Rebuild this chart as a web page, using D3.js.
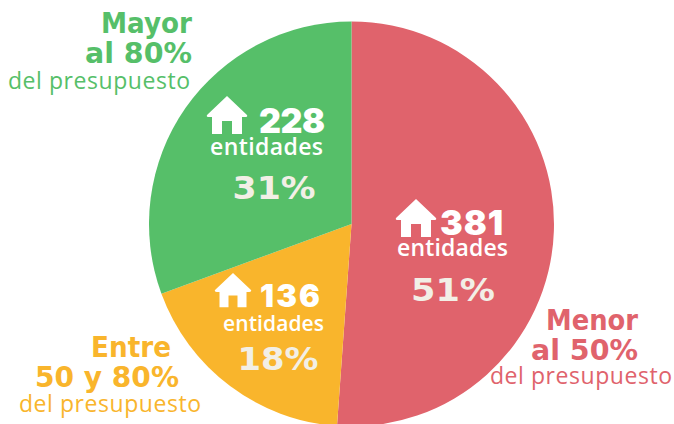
<!DOCTYPE html>
<html>
<head>
<meta charset="utf-8">
<script src="https://cdn.jsdelivr.net/npm/d3@7"></script>
<style>
    body { margin: 0; background: #fff; }
    svg { display: block; }
    .head { font-family: "DejaVu Sans"; font-weight: 700; font-size: 28px; }
    .sub { font-family: "Open Sans"; font-size: 23px; }
    .count { font-family: "Inter"; font-weight: 900; fill: #fff; }
    .unit { font-family: "Open Sans"; font-weight: 600; fill: #fff; }
    .pct { font-family: "DejaVu Sans"; font-weight: 700; font-size: 32px; fill: #f2efe6; }
</style>
</head>
<body>
<svg id="chart" width="674" height="424"></svg>
<script>
const categories = ["Menor al 50%", "Entre 50 y 80%", "Mayor al 80%"];
const entidades = [381, 136, 228];
const percents = ["51%", "18%", "31%"];
const colors = ["#e0636c", "#f9b52c", "#56bf69"];
const headLines = [["Menor", "al 50%"], ["Entre", "50 y 80%"], ["Mayor", "al 80%"]];
const subLabel = "del presupuesto";

// where the text blocks sit, same order as categories
const headRight = [[638, 638], [171, 179], [192, 192]];
const headWidth = [[92, 107], [80, 144], [91, 107]];
const headBase = [330, 357, 33];
const subRight = [672, 201, 190];
const subBase = [384, 412, 89];
const subWidth = 182;
const countPos = [[440, 235], [260, 307], [259, 133]];
const countSize = [34, 31, 34];
const countWidth = [63, 60, 66];
const unitPos = [[452.5, 256], [273.5, 331], [266.5, 155]];
const unitSize = [23, 21, 23];
const unitWidth = [111, 101, 113];
const pctPos = [[453, 301], [278, 370], [274, 199]];
const pctWidth = [84, 81, 83];
const housePos = [[416, 219], [233, 291], [227, 116]];
const houseScale = [1, 0.9, 1];

const cx = 351.5, cy = 224, radius = 202.5;
let svg = d3.select("#chart");

let pie = d3.pie().sort(null).value(d => d);
let arc = d3.arc().innerRadius(0).outerRadius(radius);

svg.append("g")
    .attr("transform", `translate(${cx},${cy})`)
    .selectAll("path")
    .data(pie(entidades))
    .enter()
    .append("path")
    .attr("d", arc)
    .style("fill", (d, i) => colors[i]);

// outside labels
categories.forEach((c, i) => {
    headLines[i].forEach((line, j) => {
        svg.append("text")
            .attr("class", "head")
            .attr("x", headRight[i][j])
            .attr("y", headBase[i] + j * 30)
            .attr("text-anchor", "end")
            .attr("textLength", headWidth[i][j])
            .attr("lengthAdjust", "spacingAndGlyphs")
            .style("fill", colors[i])
            .text(line);
    });
    svg.append("text")
        .attr("class", "sub")
        .attr("x", subRight[i])
        .attr("y", subBase[i])
        .attr("text-anchor", "end")
        .attr("textLength", subWidth)
        .style("fill", colors[i])
        .text(subLabel);
});

// inside labels
entidades.forEach((v, i) => {
    let h = svg.append("g")
        .attr("transform", `translate(${housePos[i][0]},${housePos[i][1]}) scale(${houseScale[i]})`);
    h.append("path")
        .attr("fill", "#fff")
        .attr("d", "M0,-20 L20,-1 Q21,1 18,1 L15,1 L15,18 L5,18 L5,5 L-5,5 L-5,18 L-15,18 L-15,1 L-18,1 Q-21,1 -20,-1 Z");
    svg.append("text").attr("class", "count")
        .attr("x", countPos[i][0]).attr("y", countPos[i][1])
        .attr("textLength", countWidth[i])
        .style("font-size", countSize[i] + "px").text(v);
    svg.append("text").attr("class", "unit")
        .attr("x", unitPos[i][0]).attr("y", unitPos[i][1]).attr("text-anchor", "middle")
        .attr("textLength", unitWidth[i])
        .style("font-size", unitSize[i] + "px").text("entidades");
    svg.append("text").attr("class", "pct")
        .attr("x", pctPos[i][0]).attr("y", pctPos[i][1]).attr("text-anchor", "middle")
        .attr("textLength", pctWidth[i]).attr("lengthAdjust", "spacingAndGlyphs")
        .text(percents[i]);
});
</script>
</body>
</html>
